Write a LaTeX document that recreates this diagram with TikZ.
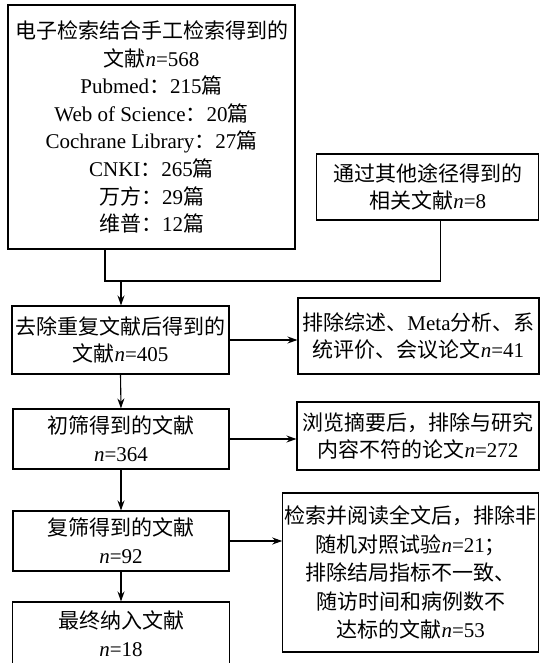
\documentclass[tikz,border=0pt]{standalone}
\usepackage{fontspec}
\setmainfont{Liberation Serif}
\newfontfamily\cjk{Noto Sans CJK SC}
\newcommand\zh[1]{{\cjk #1}}
\newcommand\nn{\textit{n}}
\usetikzlibrary{arrows.meta}
\begin{document}
\begin{tikzpicture}[x=1pt,y=-1pt,
  box/.style={draw, line width=1.1pt, inner sep=0pt, align=center,
    font=\fontsize{21}{27.6}\selectfont},
  arr/.style={-{Stealth[length=10pt,width=7pt]}, line width=1.1pt},
  ln/.style={line width=1.1pt}]
\useasboundingbox (0,0) rectangle (541,663);
\node[box, minimum width=287pt, minimum height=244pt] (b1) at (151.5,127)
  {\zh{电子检索结合手工检索得到的}\\ \zh{文献}\nn=568\\ Pubmed\zh{：}215\zh{篇}\\
   Web of Science\zh{：}20\zh{篇}\\ Cochrane Library\zh{：}27\zh{篇}\\
   CNKI\zh{：}265\zh{篇}\\ \zh{万方：}29\zh{篇}\\ \zh{维普：}12\zh{篇}};
\node[box, minimum width=222pt, minimum height=66pt] (b2) at (427.8,187)
  {\zh{通过其他途径得到的}\\ \zh{相关文献}\nn=8};
\node[box, minimum width=217pt, minimum height=68pt] (b3) at (120.5,340)
  {\zh{去除重复文献后得到的}\\ \zh{文献}\nn=405};
\node[box, minimum width=241pt, minimum height=76pt] (b4) at (418.5,336)
  {\zh{排除综述、}Meta\zh{分析、系}\\ \zh{统评价、会议论文}\nn=41};
\node[box, minimum width=216pt, minimum height=60pt] (b5) at (121,439)
  {\zh{初筛得到的文献}\\ \nn=364};
\node[box, minimum width=242pt, minimum height=68pt] (b6) at (418,436)
  {\zh{浏览摘要后，排除与研究}\\ \zh{内容不符的论文}\nn=272};
\node[box, minimum width=216pt, minimum height=60pt] (b7) at (121,541)
  {\zh{复筛得到的文献}\\ \nn=92};
\node[box, minimum width=256pt, minimum height=159pt,
  font=\fontsize{21}{28.5}\selectfont] (b8) at (410.8,572.5)
  {\zh{检索并阅读全文后，排除非}\\ \zh{随机对照试验}\nn=21\zh{；}\\
   \zh{排除结局指标不一致、}\\ \zh{随访时间和病例数不}\\ \zh{达标的文献}\nn=53};
\node[box, minimum width=217pt, minimum height=63pt] (b9) at (121,633.5)
  {\zh{最终纳入文献}\\ \nn=18};
\coordinate (jl) at (105,281);
\coordinate (jr) at (440.7,281);
\coordinate (j) at (121,281);
\draw[ln] (b1.south -| jl) -- (jl) -- (jr) -- (b2.south -| jr);
\draw[arr] (j) -- (b3.north -| j);
\draw[arr] (b3.south) -- (b5.north);
\draw[arr] (b5.south) -- (b7.north);
\draw[arr] (b7.south) -- (b9.north);
\draw[arr] (b3.east) -- (b4.west |- b3.east);
\draw[arr] (b5.east) -- (b6.west |- b5.east);
\draw[arr] (b7.east) -- (b8.west |- b7.east);
\end{tikzpicture}
\end{document}
